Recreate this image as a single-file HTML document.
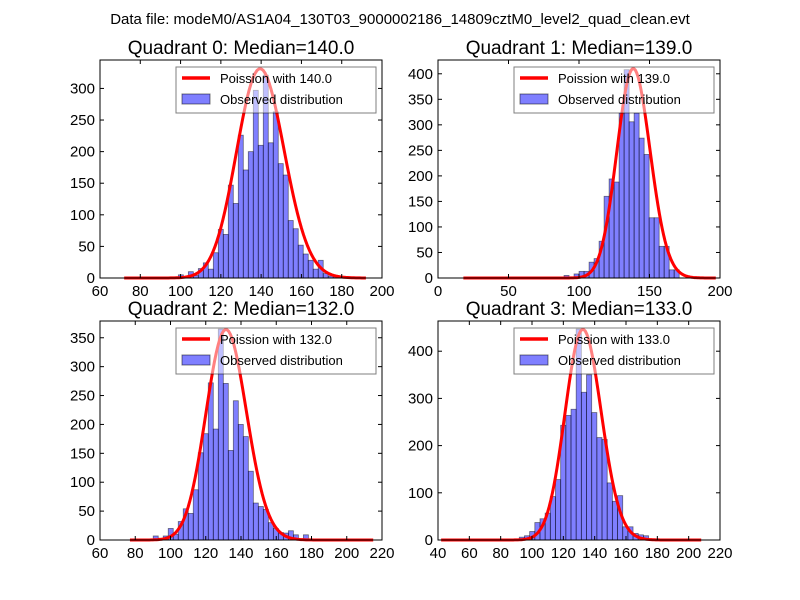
<!DOCTYPE html>
<html><head><meta charset="utf-8"><style>
body{margin:0;background:#fff}
svg{display:block;font-family:"Liberation Sans",sans-serif}
</style></head><body>
<svg id="chart" width="800" height="600" viewBox="0 0 800 600">
<rect width="800" height="600" fill="#fff"/>
<text x="400" y="24" text-anchor="middle" font-size="15">Data file: modeM0/AS1A04_130T03_9000002186_14809cztM0_level2_quad_clean.evt</text>
</svg>
<script>
// Quadrant 0
const q0BinStart = 98.9, q0BinWidth = 2.48;
const q0Heights = [5,0,10,4,15,24,14,40,77,69,147,118,226,171,200,297,210,321,214,263,181,163,91,78,52,38,28,14,28,7,3,2];
const q0Lambda = 140, q0Peak = 331, q0CurveRange = [72,192];
// Quadrant 1
const q1BinStart = 89.4, q1BinWidth = 3.55;
const q1Heights = [5,0,8,13,13,31,38,72,160,194,188,323,408,306,323,274,242,118,118,62,62,16,16];
const q1Lambda = 139, q1Peak = 410, q1CurveRange = [18,197];
// Quadrant 2
const q2BinStart = 90.2, q2BinWidth = 2.84;
const q2Heights = [7,3,7,20,10,32,54,46,87,151,184,272,192,365,271,155,241,200,179,119,64,58,53,30,20,13,12,16,9,0,9];
const q2Lambda = 132, q2Peak = 364, q2CurveRange = [77,215];
// Quadrant 3
const q3BinStart = 91.9, q3BinWidth = 3.3;
const q3Heights = [6,9,18,37,45,57,92,128,243,264,277,447,313,350,270,217,213,121,82,94,28,28,14,11,9];
const q3Lambda = 133, q3Peak = 446, q3CurveRange = [42,208];

const NS = "http://www.w3.org/2000/svg";
const svg = document.getElementById('chart');
function mk(tag, attrs, parent){ const e=document.createElementNS(NS,tag); for(const k in attrs) e.setAttribute(k,attrs[k]); (parent||svg).appendChild(e); return e; }
function logFact(n){ let s=0; for(let i=2;i<=n;i++) s+=Math.log(i); return s; }
function pmf(k,l){ return Math.exp(k*Math.log(l)-l-logFact(k)); }

function panel(p){
  const g = mk('g',{});
  
  
  const sx = v => p.L + (v-p.xmin)/(p.xmax-p.xmin)*(p.R-p.L);
  const sy = v => p.B - v/p.ymax*(p.B-p.T);
  p.heights.forEach((h,i)=>{
    if(h<=0) return;
    const x0 = sx(p.binStart + i*p.binWidth), x1 = sx(p.binStart+(i+1)*p.binWidth);
    const r = mk('rect',{x:x0,y:sy(h),width:x1-x0,height:p.B-sy(h),fill:'#0000ff','fill-opacity':0.5,stroke:'#000','stroke-opacity':0.5,'stroke-width':0.8},g);
    
    
  });
  const amp = p.peak / pmf(Math.floor(p.lambda), p.lambda);
  let d='';
  for(let k=p.curve[0];k<=p.curve[1];k++){ d += (d?'L':'M') + sx(k).toFixed(2)+','+sy(amp*pmf(k,p.lambda)).toFixed(2); }
  const cl = mk('path',{d:d,fill:'none',stroke:'#ff0000','stroke-width':3,'stroke-linejoin':'round'},g);
  
  
  const fr = mk('rect',{x:p.L,y:p.T,width:p.R-p.L,height:p.B-p.T,fill:'none',stroke:'#000','stroke-width':1},g);
  
  
  p.xticks.forEach(v=>{
    const x=sx(v);
    mk('line',{x1:x,y1:p.B,x2:x,y2:p.B-4,stroke:'#000'},g);
    mk('line',{x1:x,y1:p.T,x2:x,y2:p.T+4,stroke:'#000'},g);
    const t=mk('text',{x:x,y:p.B+18,'text-anchor':'middle','font-size':15},g);
    t.textContent=v;
    
    
  });
  p.yticks.forEach(v=>{
    const y=sy(v);
    mk('line',{x1:p.L,y1:y,x2:p.L+4,y2:y,stroke:'#000'},g);
    mk('line',{x1:p.R,y1:y,x2:p.R-4,y2:y,stroke:'#000'},g);
    const t=mk('text',{x:p.L-5,y:y+5,'text-anchor':'end','font-size':15},g);
    t.textContent=v;
    
    
  });
  const ti=mk('text',{x:(p.L+p.R)/2,y:p.T-6,'text-anchor':'middle','font-size':19},g);
  ti.textContent=p.title;
  
  
  const lg=mk('g',{},g);
  
  
  const lx=p.R-206, ly=p.T+7;
  mk('rect',{x:lx,y:ly,width:200,height:46,fill:'#fff','fill-opacity':0.5,stroke:'#000','stroke-opacity':0.5},lg);
  mk('line',{x1:lx+6,y1:ly+11,x2:lx+34,y2:ly+11,stroke:'#ff0000','stroke-width':3.5},lg);
  mk('rect',{x:lx+6,y:ly+27,width:28,height:10,fill:'#0000ff','fill-opacity':0.5,stroke:'#000','stroke-opacity':0.5},lg);
  const t1=mk('text',{x:lx+44,y:ly+16,'font-size':13},lg); t1.textContent='Poission with '+p.lambda.toFixed(1);
  
  
  const t2=mk('text',{x:lx+44,y:ly+37,'font-size':13},lg); t2.textContent='Observed distribution';
  
  
}
function range(a,b,s){ const r=[]; for(let v=a;v<=b;v+=s) r.push(v); return r; }
panel({name:'quadrant-0',L:100,R:382,T:60,B:278,xmin:60,xmax:200,ymax:345,xticks:range(60,200,20),yticks:range(0,300,50),
  binStart:q0BinStart,binWidth:q0BinWidth,heights:q0Heights,lambda:q0Lambda,peak:q0Peak,curve:q0CurveRange,title:'Quadrant 0: Median=140.0'});
panel({name:'quadrant-1',L:438,R:720,T:60,B:278,xmin:0,xmax:200,ymax:427,xticks:range(0,200,50),yticks:range(0,400,50),
  binStart:q1BinStart,binWidth:q1BinWidth,heights:q1Heights,lambda:q1Lambda,peak:q1Peak,curve:q1CurveRange,title:'Quadrant 1: Median=139.0'});
panel({name:'quadrant-2',L:100,R:382,T:321,B:540,xmin:60,xmax:220,ymax:379,xticks:range(60,220,20),yticks:range(0,350,50),
  binStart:q2BinStart,binWidth:q2BinWidth,heights:q2Heights,lambda:q2Lambda,peak:q2Peak,curve:q2CurveRange,title:'Quadrant 2: Median=132.0'});
panel({name:'quadrant-3',L:438,R:720,T:321,B:540,xmin:40,xmax:220,ymax:464,xticks:range(40,220,20),yticks:range(0,400,100),
  binStart:q3BinStart,binWidth:q3BinWidth,heights:q3Heights,lambda:q3Lambda,peak:q3Peak,curve:q3CurveRange,title:'Quadrant 3: Median=133.0'});
</script>
</body></html>
